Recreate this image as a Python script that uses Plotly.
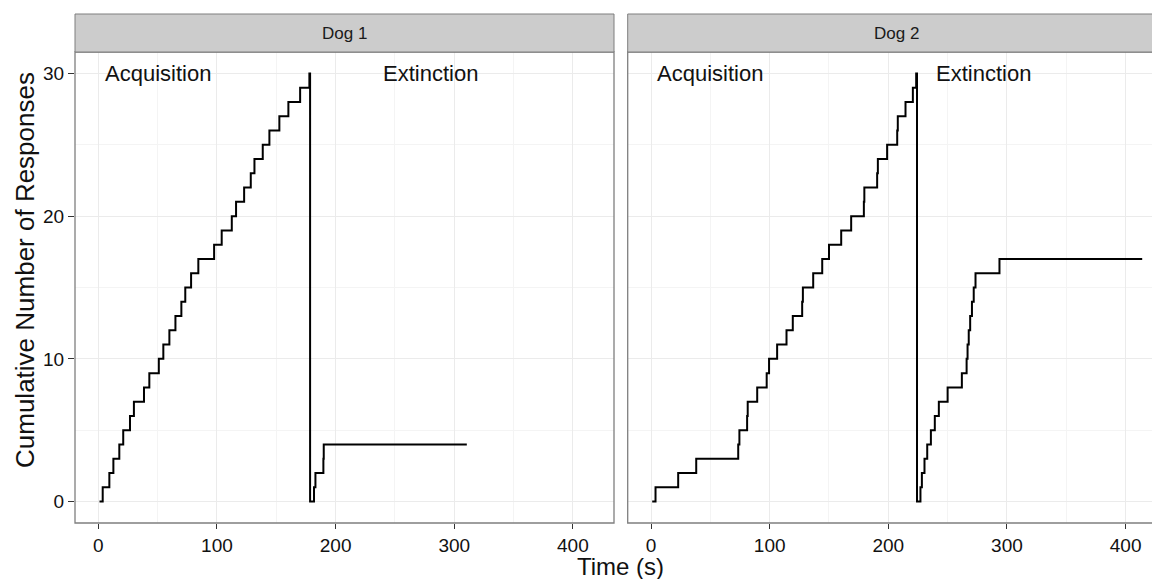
import plotly.graph_objects as go

# ---------------- data ----------------
panel_labels = ["Dog 1", "Dog 2"]
phase_labels = ["Acquisition", "Extinction"]
phase_label_x = [50, 280]
phase_label_y = 30

x_tick_vals = [0, 100, 200, 300, 400]
y_tick_vals = [0, 10, 20, 30]

dog1_acq_time = [1, 3.7, 9.3, 12.7, 17.7, 21, 26.7, 30, 38.5, 43, 51, 54.8, 59.9, 65, 70,
                 73.3, 78.2, 84.3, 97.6, 104, 112.5, 116.1, 122.9, 128.5, 131.6, 138.6,
                 144.2, 152.6, 160.2, 170.1, 177.9]
dog1_acq_count = list(range(0, 31))
dog1_ext_time = [178.5, 181.8, 183.0, 189.7, 190.0, 310.6]
dog1_ext_count = [0, 1, 2, 3, 4, 4]

dog2_acq_time = [1, 3.8, 22.9, 38.1, 73.5, 74.5, 81, 81.5, 89.5, 97.5, 99.5, 106.3, 114.2,
                 119.5, 127.4, 128, 136.7, 144.3, 150, 160.3, 168.7, 179.4, 179.8, 190.6,
                 191.2, 199, 207.5, 208, 214.5, 220.7, 223.5]
dog2_acq_count = list(range(0, 31))
dog2_ext_time = [224.2, 227.1, 228.3, 230.5, 232.8, 235.9, 239.2, 242.6, 250, 262, 266,
                 266.8, 267.8, 269, 270.5, 272, 273.5, 293.7, 414]
dog2_ext_count = [0, 1, 2, 3, 4, 5, 6, 7, 8, 9, 10, 11, 12, 13, 14, 15, 16, 17, 17]

# ---------------- layout geometry ----------------
W, H = 1152, 579
ML, MR, MT, MB = 75, 0, 52, 56
PW = W - ML - MR
PH = H - MT - MB
dom1 = [0, 539 / PW]
dom2 = [(627.7 - ML) / PW, 1]
px_per_unit = 539 / (434.65 + 19.65)
x1_range = [-19.65, 434.65]
x2_range = [-19.65, -19.65 + (W - 627.7) / px_per_unit]
y_range = [-1.5, 31.5]

FONT = "Liberation Sans, Arial, Helvetica, sans-serif"
GRID = "#EBEBEB"
MINOR = "#F4F4F4"
BORDER = "#7F7F7F"

fig = go.Figure()
series = [(dog1_acq_time + dog1_ext_time, dog1_acq_count + dog1_ext_count, "x", "y"),
          (dog2_acq_time + dog2_ext_time, dog2_acq_count + dog2_ext_count, "x2", "y2")]
for t, n, xa, ya in series:
    fig.add_trace(go.Scatter(x=t, y=n, mode="lines", xaxis=xa, yaxis=ya,
                             line=dict(color="black", width=2, shape="hv"),
                             hoverinfo="x+y"))

common_x = dict(tickvals=x_tick_vals, ticks="outside", ticklen=5, tickwidth=1.2,
                tickcolor="#333333", tickfont=dict(size=19, color="#111111", family=FONT),
                showgrid=True, gridcolor=GRID, gridwidth=1, zeroline=False, showline=False,
                minor=dict(dtick=50, tick0=0, showgrid=True, gridcolor=MINOR, gridwidth=1))
common_y = dict(range=y_range, tickvals=y_tick_vals, showgrid=True, gridcolor=GRID,
                gridwidth=1, zeroline=False, showline=False,
                minor=dict(dtick=5, tick0=0, showgrid=True, gridcolor=MINOR, gridwidth=1))

fig.update_layout(
    width=W, height=H, margin=dict(l=ML, r=MR, t=MT, b=MB),
    plot_bgcolor="white", paper_bgcolor="white", showlegend=False,
    font=dict(family=FONT, color="#111111"),
    xaxis=dict(domain=dom1, range=x1_range, anchor="y", **common_x),
    xaxis2=dict(domain=dom2, range=x2_range, anchor="y2", **common_x),
    yaxis=dict(domain=[0, 1], anchor="x", ticks="outside", ticklen=6, tickwidth=1.2,
               tickcolor="#333333", tickfont=dict(size=19, color="#111111", family=FONT),
               **common_y),
    yaxis2=dict(domain=[0, 1], anchor="x2", showticklabels=False, ticks="", **common_y),
)

strip_h = 38 / PH
shapes = [
    # panel 1 border
    dict(type="rect", xref="paper", yref="paper", x0=dom1[0], x1=dom1[1], y0=0, y1=1,
         line=dict(color=BORDER, width=1.3), layer="above"),
    # panel 2 border (right side cut off by the image edge)
    dict(type="path", xref="paper", yref="paper",
         path=f"M 1.05 0 L {dom2[0]} 0 L {dom2[0]} 1 L 1.05 1",
         line=dict(color=BORDER, width=1.3), layer="above"),
    # strips
    dict(type="rect", xref="paper", yref="paper", x0=dom1[0], x1=dom1[1], y0=1,
         y1=1 + strip_h, fillcolor="#CCCCCC", line=dict(color=BORDER, width=1)),
    dict(type="rect", xref="paper", yref="paper", x0=dom2[0], x1=1.05, y0=1,
         y1=1 + strip_h, fillcolor="#CCCCCC", line=dict(color=BORDER, width=1)),
]
fig.update_layout(shapes=shapes)

annotations = []
strip_centers = [(dom1[0] + dom1[1]) / 2, (dom2[0] + (1166 - ML) / PW) / 2]
for lab, cx in zip(panel_labels, strip_centers):
    annotations.append(dict(text=lab, xref="paper", yref="paper", x=cx, y=1 + strip_h / 2,
                            xanchor="center", yanchor="middle", showarrow=False,
                            font=dict(size=17, color="#1A1A1A", family=FONT)))
for xa, ya in [("x", "y"), ("x2", "y2")]:
    for lab, lx in zip(phase_labels, phase_label_x):
        annotations.append(dict(text=lab, xref=xa, yref=ya, x=lx, y=phase_label_y,
                                xanchor="center", yanchor="middle", showarrow=False,
                                font=dict(size=22, color="#111111", family=FONT)))
# axis titles
annotations.append(dict(text="Time (s)", xref="paper", yref="paper",
                        x=(620.5 - ML) / PW, y=-(566 - (MT + PH)) / PH,
                        xanchor="center", yanchor="middle", showarrow=False,
                        font=dict(size=24, color="#111111", family=FONT)))
annotations.append(dict(text="Cumulative Number of Responses", xref="paper", yref="paper",
                        x=(25 - ML) / PW, y=((MT + PH) - 270) / PH, textangle=-90,
                        xanchor="center", yanchor="middle", showarrow=False,
                        font=dict(size=26, color="#111111", family=FONT)))
fig.update_layout(annotations=annotations)

fig.write_html("out.html", config={"displayModeBar": False},
               post_script="document.body.style.margin='0';")
